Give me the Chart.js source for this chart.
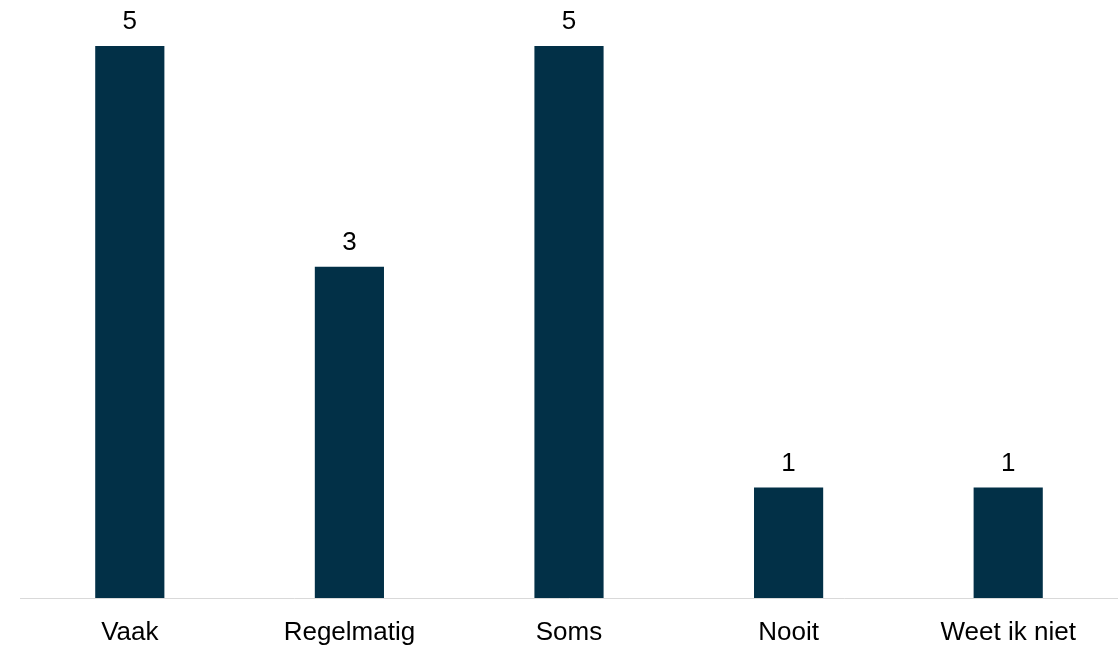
<!DOCTYPE html>
<html>
<head>
<meta charset="utf-8">
<script src="https://cdn.jsdelivr.net/npm/chart.js@4"></script>
<style>
  html, body { margin: 0; padding: 0; background: #fff; }
  #wrap { width: 1118px; height: 645px; }
</style>
</head>
<body>
<div id="wrap"><canvas id="freqChart"></canvas></div>
<script>
const categories = ['Vaak', 'Regelmatig', 'Soms', 'Nooit', 'Weet ik niet'];
const counts = [5, 3, 5, 1, 1];

// labels above the bars
const valueLabels = {
  id: 'valueLabels',
  afterDatasetsDraw(chart) {
    const ctx = chart.ctx;
    const meta = chart.getDatasetMeta(0);
    ctx.save();
    ctx.font = '26px "Liberation Sans", Arial, sans-serif';
    ctx.fillStyle = '#000';
    ctx.textAlign = 'center';
    ctx.textBaseline = 'alphabetic';
    meta.data.forEach((bar, i) => {
      ctx.fillText(counts[i], bar.x, bar.y - 17);
    });
    ctx.restore();
  }
};

window.onload = () => {
  const ctx = document.getElementById('freqChart');
  new Chart(ctx, {
    type: 'bar',
    data: {
      labels: categories,
      datasets: [{
        data: counts,
        backgroundColor: '#023047',
        barPercentage: 0.315,
        categoryPercentage: 1
      }]
    },
    options: {
      responsive: true,
      maintainAspectRatio: false,
      animation: false,
      layout: { padding: { top: 46, left: 20, right: 0, bottom: 0 } },
      plugins: { legend: { display: false }, tooltip: { enabled: false } },
      scales: {
        x: {
          grid: { display: false, drawTicks: false },
          border: { color: '#d9d9d9', width: 1 },
          ticks: {
            padding: 19,
            color: '#000',
            font: { family: '"Liberation Sans", Arial, sans-serif', size: 26 }
          },
          afterFit: (scale) => { scale.height = 47; }
        },
        y: {
          display: false,
          min: 0,
          max: 5
        }
      }
    },
    plugins: [valueLabels]
  });
};
</script>
</body>
</html>
